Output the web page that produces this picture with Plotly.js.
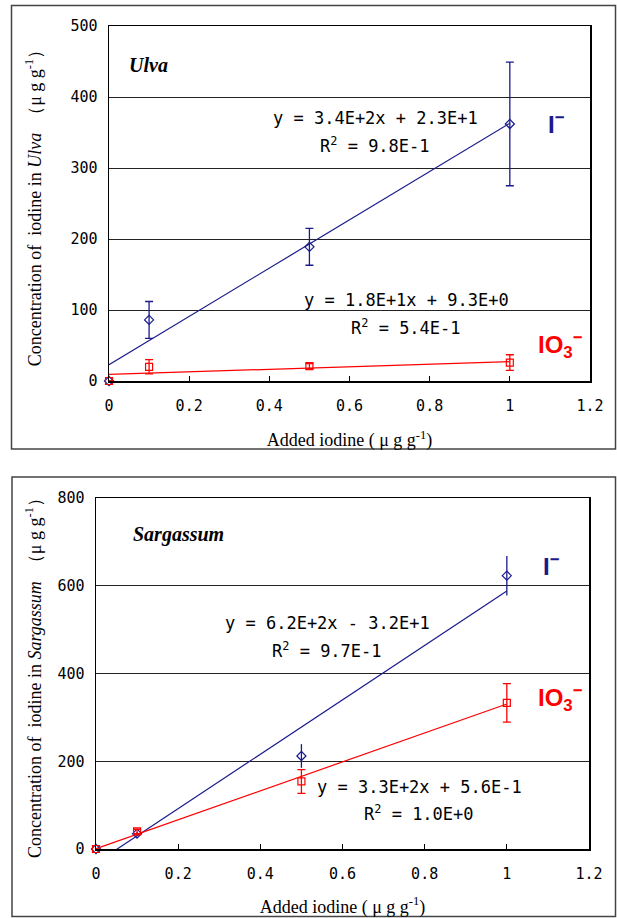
<!DOCTYPE html>
<html>
<head>
<meta charset="utf-8">
<script src="https://cdn.plot.ly/plotly-3.0.1.min.js"></script>
<style>html,body{margin:0;padding:0;background:#fff;}#chart{width:617px;height:918px;}</style>
</head>
<body>
<div id="chart"></div>
<script>
// ---- data ----
const addedIodine = [0, 0.1, 0.5, 1];

// Ulva
const ulvaIodide = [0, 86, 189, 362];
const ulvaIodideErr = [0, 26, 26, 87];
const ulvaIodate = [0, 20, 21, 26];
const ulvaIodateErr = [0, 10, 3.5, 11];

// Sargassum
const sargIodide = [0, 35, 212, 623];
const sargIodideErr = [0, 4, 27, 45];
const sargIodate = [0, 40, 154, 333];
const sargIodateErr = [0, 5, 27, 44];

// trendline coefficients [slope, intercept]
const ulvaIodideFit = [340, 23];
const ulvaIodateFit = [18, 9.3];
const sargIodideFit = [620, -32];
const sargIodateFit = [330, 0.56];

// equation labels
const ulvaIodideEq = ["y = 3.4E+2x + 2.3E+1", "R<sup>2</sup> = 9.8E-1"];
const ulvaIodateEq = ["y = 1.8E+1x + 9.3E+0", "R<sup>2</sup> = 5.4E-1"];
const sargIodideEq = ["y = 6.2E+2x - 3.2E+1", "R<sup>2</sup> = 9.7E-1"];
const sargIodateEq = ["y = 3.3E+2x + 5.6E-1", "R<sup>2</sup> = 1.0E+0"];

const fitX = [0, 1];
// --------------------------------------

const W = 617, H = 918;
const px = v => v / W;
const py = v => 1 - v / H;

const BLUE = '#1a1a8c';
const RED = '#ff0000';
const MONO = 'DejaVu Sans Mono, monospace';
const SERIF = 'Liberation Serif, Times New Roman, serif';
const IONFONT = 'Liberation Sans Narrow, Liberation Sans, Arial, sans-serif';

function pts(x, y, err, color, symbol, xa, ya, capw) {
  return {
    x: x, y: y, xaxis: xa, yaxis: ya, type: 'scatter', mode: 'markers',
    cliponaxis: false, showlegend: false, hoverinfo: 'skip',
    marker: {symbol: symbol, size: 7, color: color, line: {color: color, width: 1.2}},
    error_y: {type: 'data', array: err, visible: true, color: color, thickness: 1.3, width: capw}
  };
}
function fit(coef, color, xa, ya) {
  return {
    x: fitX, y: fitX.map(v => coef[0] * v + coef[1]), xaxis: xa, yaxis: ya,
    type: 'scatter', mode: 'lines', showlegend: false, hoverinfo: 'skip',
    line: {color: color, width: 1.2}
  };
}

const data = [
  fit(ulvaIodideFit, BLUE, 'x', 'y'),
  fit(ulvaIodateFit, RED, 'x', 'y'),
  pts(addedIodine, ulvaIodide, ulvaIodideErr, BLUE, 'diamond-open', 'x', 'y', 4),
  pts(addedIodine, ulvaIodate, ulvaIodateErr, RED, 'square-open', 'x', 'y', 4),
  fit(sargIodideFit, BLUE, 'x2', 'y2'),
  fit(sargIodateFit, RED, 'x2', 'y2'),
  pts(addedIodine, sargIodide, sargIodideErr, BLUE, 'diamond-open', 'x2', 'y2', 0),
  pts(addedIodine, sargIodate, sargIodateErr, RED, 'square-open', 'x2', 'y2', 4)
];

const xCommon = {
  range: [0, 1.2], dtick: 0.2, tick0: 0, showgrid: false, zeroline: false,
  showline: true, mirror: true, linecolor: '#000', linewidth: 1.5,
  ticks: 'inside', ticklen: 5, tickcolor: '#000', tickwidth: 1,
  tickfont: {family: MONO, size: 15, color: '#000'}, ticklabelstandoff: 10,
  fixedrange: true
};
const yCommon = {
  showgrid: true, gridcolor: '#222', gridwidth: 1, zeroline: false,
  showline: true, mirror: true, linecolor: '#000', linewidth: 1.5,
  ticks: '', tickfont: {family: MONO, size: 15, color: '#000'}, ticklabelstandoff: 7,
  fixedrange: true
};
const titleFont = {family: SERIF, size: 18, color: '#000'};

const layout = {
  width: W, height: H,
  margin: {l: 0, r: 0, t: 0, b: 0},
  paper_bgcolor: '#fff', plot_bgcolor: '#fff',
  showlegend: false,
  xaxis: Object.assign({}, xCommon, {
    domain: [px(109), px(590)], anchor: 'y',
    title: {text: 'Added iodine ( μ g g<sup>-1</sup>)', font: titleFont, standoff: 20}
  }),
  yaxis: Object.assign({}, yCommon, {
    domain: [py(381), py(26)], anchor: 'x', range: [0, 500], dtick: 100,
    title: {text: 'Concentration of  iodine in <i>Ulva</i>  （μ g g<sup>-1</sup>）', font: titleFont, standoff: 24}
  }),
  xaxis2: Object.assign({}, xCommon, {
    domain: [px(96), px(589)], anchor: 'y2',
    title: {text: 'Added iodine ( μ g g<sup>-1</sup>)', font: titleFont, standoff: 20}
  }),
  yaxis2: Object.assign({}, yCommon, {
    domain: [py(849), py(498)], anchor: 'x2', range: [0, 800], dtick: 200,
    title: {text: 'Concentration of  iodine in <i>Sargassum</i>  （μ g g<sup>-1</sup>）', font: titleFont, standoff: 11}
  }),
  shapes: [
    {type: 'rect', xref: 'paper', yref: 'paper', x0: px(11.5), x1: px(615.5), y0: py(449), y1: py(5.5),
     line: {color: '#444', width: 1.5}, layer: 'below'},
    {type: 'rect', xref: 'paper', yref: 'paper', x0: px(12), x1: px(615.5), y0: py(916.5), y1: py(477),
     line: {color: '#444', width: 1.5}, layer: 'below'}
  ],
  annotations: []
};

function ann(text, x, y, opts) {
  layout.annotations.push(Object.assign({
    text: text, xref: 'paper', yref: 'paper', x: px(x), y: py(y),
    xanchor: 'center', yanchor: 'middle', showarrow: false,
    font: {family: MONO, size: 17, color: '#000'}
  }, opts || {}));
}

// Ulva panel
ann('<b><i>Ulva</i></b>', 127, 65, {xanchor: 'left', font: {family: SERIF, size: 20, color: '#000'}});
ann(ulvaIodideEq[0], 375, 118);
ann(ulvaIodideEq[1], 375, 145);
ann(ulvaIodateEq[0], 406, 300);
ann(ulvaIodateEq[1], 406, 327);
ann('<b>I<sup>−</sup></b>', 546, 123, {xanchor: 'left', font: {family: IONFONT, size: 24, color: BLUE}});
ann('<b>IO<sub>3</sub><sup>−</sup></b>', 536, 345, {xanchor: 'left', font: {family: IONFONT, size: 24, color: RED}});

// Sargassum panel
ann('<b><i>Sargassum</i></b>', 131, 534, {xanchor: 'left', font: {family: SERIF, size: 20, color: '#000'}});
ann(sargIodideEq[0], 327, 623);
ann(sargIodideEq[1], 327, 650);
ann(sargIodateEq[0], 419, 787);
ann(sargIodateEq[1], 419, 813);
ann('<b>I<sup>−</sup></b>', 541, 565, {xanchor: 'left', font: {family: IONFONT, size: 24, color: BLUE}});
ann('<b>IO<sub>3</sub><sup>−</sup></b>', 536, 698, {xanchor: 'left', font: {family: IONFONT, size: 24, color: RED}});

Plotly.newPlot('chart', data, layout, {staticPlot: true, displayModeBar: false});
</script>
</body>
</html>
